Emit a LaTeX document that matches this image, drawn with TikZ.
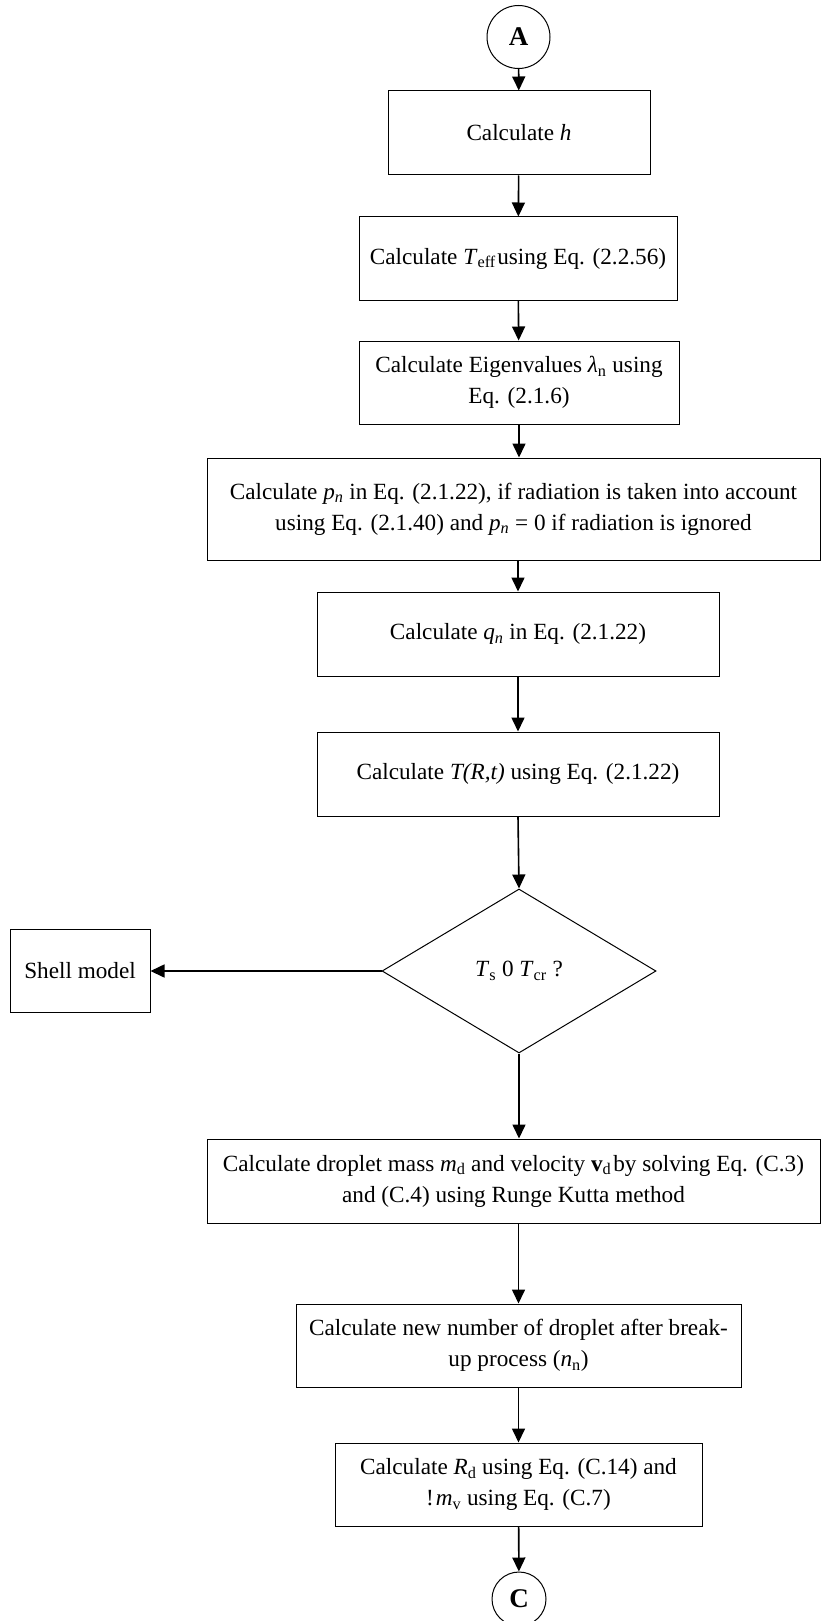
\documentclass[tikz,border=0pt]{standalone}
\usepackage{fontspec}
\setmainfont{Liberation Serif}
\usetikzlibrary{shapes.geometric,arrows.meta}
\begin{document}
\begin{tikzpicture}[x=1pt,y=-1pt,
  box/.style={draw,line width=1pt,rectangle,inner sep=0pt,align=center,
    font=\fontsize{23.2}{31}\selectfont},
  conn/.style={draw,circle,line width=1pt,inner sep=0pt,
    font=\fontsize{27}{30}\selectfont\bfseries},
  dec/.style={draw,diamond,line width=1pt,inner sep=0pt,
    font=\fontsize{23.2}{31}\selectfont},
  arr/.style={line width=1.6pt,-{Triangle[width=13pt,length=14pt]}}]
\useasboundingbox (0,0) rectangle (821,1621);
\node[conn,minimum size=63pt] (A) at (518.5,37) {A};
\node[box,minimum width=262pt,minimum height=84pt] (h) at (519,133) {Calculate \textit{h}};
\node[box,minimum width=318pt,minimum height=83pt] (teff) at (518,258.5) {Calculate \textit{T}\textsubscript{eff}\hspace{1.5pt}using Eq. (2.2.56)};
\node[box,minimum width=320pt,minimum height=83pt] (eig) at (519,382.5) {Calculate Eigenvalues \textit{λ}\textsubscript{n} using\\Eq. (2.1.6)};
\node[box,minimum width=613pt,minimum height=102pt] (pn) at (513.5,509) {Calculate \textit{p\textsubscript{n}} in Eq. (2.1.22), if radiation is taken into account\\using Eq. (2.1.40) and \textit{p\textsubscript{n}} = 0 if radiation is ignored};
\node[box,minimum width=402pt,minimum height=84pt] (q) at (518,634) {Calculate \textit{q\textsubscript{n}} in Eq. (2.1.22)};
\node[box,minimum width=402pt,minimum height=84pt] (T) at (518,774) {Calculate \textit{T(R,t)} using Eq. (2.1.22)};
\node[dec,minimum width=274pt,minimum height=164pt] (d) at (519,971) {\textit{T}\textsubscript{s} 0 \textit{T}\textsubscript{cr} ?};
\node[box,minimum width=140pt,minimum height=83pt] (shell) at (80,971) {Shell model};
\node[box,minimum width=613pt,minimum height=84pt] (drop) at (513.5,1181) {Calculate droplet mass \textit{m}\textsubscript{d} and velocity \textbf{v}\textsubscript{d}\hspace{2pt}by solving Eq. (C.3)\\and (C.4) using Runge Kutta method};
\node[box,minimum width=445pt,minimum height=83pt] (new) at (518.5,1345.5) {Calculate new number of droplet after break-\\up process (\textit{n}\textsubscript{n})};
\node[box,minimum width=367pt,minimum height=83pt] (rd) at (518.5,1484.5) {Calculate \textit{R}\textsubscript{d} using Eq. (C.14) and\\!\hspace{2pt}\textit{m}\textsubscript{v} using Eq. (C.7)};
\node[conn,minimum size=54pt] (C) at (519,1599) {C};
\draw[arr] (A) -- (h);
\draw[arr] (h) -- (teff);
\draw[arr] (teff) -- (eig);
\draw[arr] (eig.south) -- (eig.south |- pn.north);
\draw[arr] (pn.south -| q.north) -- (q.north);
\draw[arr] (q) -- (T);
\draw[arr] (T.south) -- (d.north);
\draw[arr] (d.west) -- (shell.east);
\draw[arr] (d.south) -- (d.south |- drop.north);
\draw[arr] (drop.south -| new.north) -- (new.north);
\draw[arr] (new) -- (rd);
\draw[arr] (rd) -- (C);
\end{tikzpicture}
\end{document}
